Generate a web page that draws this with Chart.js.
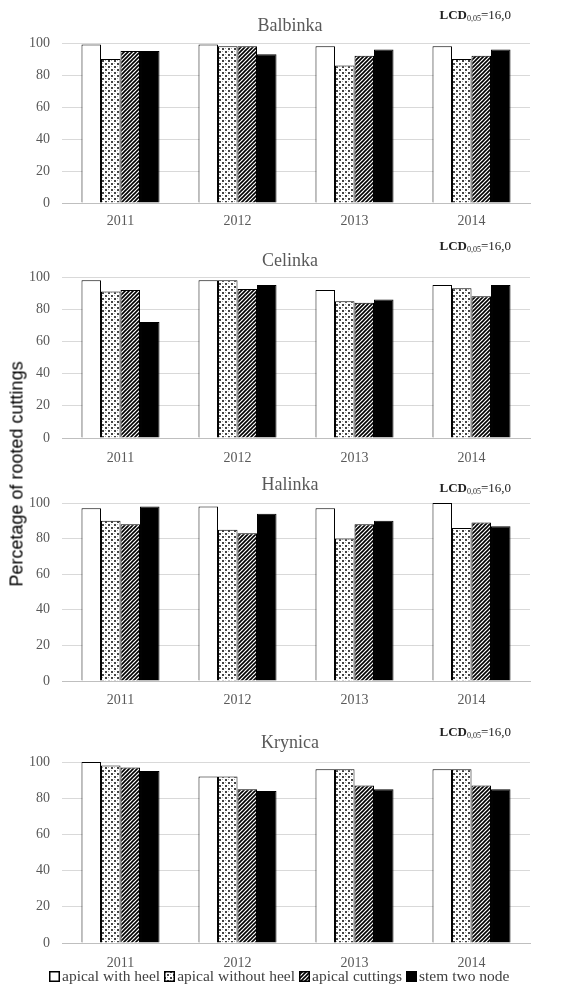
<!DOCTYPE html>
<html lang="en">

<head>
    <meta charset="UTF-8">
    <title>Percentage of rooted cuttings</title>
    <script src="https://cdn.jsdelivr.net/npm/chart.js"></script>
    <style>
        body { margin: 0; background: #fff; }
        #wrap { position: relative; width: 585px; height: 984px; overflow: hidden; background: #fff; }
        #wrap canvas.panel { position: absolute; left: 0; }
        #ytitle {
            position: absolute; left: 17px; top: 474px;
            transform: translate(-50%, -50%) rotate(-90deg);
            font: 18px "Liberation Sans", Arial, sans-serif; color: #000; white-space: nowrap;
        }
        #legend {
            position: absolute; left: 49px; top: 967px; display: flex; align-items: center;
            font: 15.5px "Liberation Serif", "Times New Roman", serif; color: #404040; white-space: nowrap; z-index: 2;
        }
        #legend span.item { display: flex; align-items: center; margin-right: 4px; }
        #legend canvas { margin-right: 2px; }
    </style>
</head>

<body>
    <div id="wrap">
        <canvas id="c1" class="panel" width="585" height="232" style="top:0px"></canvas>
        <canvas id="c2" class="panel" width="585" height="238" style="top:232px"></canvas>
        <canvas id="c3" class="panel" width="585" height="240" style="top:470px"></canvas>
        <canvas id="c4" class="panel" width="585" height="274" style="top:710px"></canvas>
        <div id="ytitle">Percetage of rooted cuttings</div>
        <div id="legend"></div>
    </div>

    <script>
        // dane
        const years = ['2011', '2012', '2013', '2014'];
        const seriesNames = ['apical with heel', 'apical without heel', 'apical cuttings', 'stem two node'];

        // kolejnosc: with heel, without heel, apical cuttings, stem two node
        const balbinka = [
            [99, 99, 98, 98],
            [90, 98, 86, 90],
            [95, 98, 92, 92],
            [95, 93, 96, 96]
        ];
        const celinka = [
            [98, 98, 92, 95],
            [91, 98, 85, 93],
            [92, 92.5, 84, 88],
            [72, 95, 86, 95]
        ];
        const halinka = [
            [97, 98, 97, 100],
            [90, 85, 80, 86],
            [88, 83, 88, 89],
            [98, 94, 90, 87]
        ];
        const krynica = [
            [100, 92, 96, 96],
            [98, 92, 96, 96],
            [97, 85, 87, 87],
            [95, 84, 85, 85]
        ];
        const yTicks = [0, 20, 40, 60, 80, 100];
        const lcdText = ['LCD', '0,05', '=16,0'];

        const serif = '"Liberation Serif", "Times New Roman", serif';
        const grey = '#595959';

        // wzory wypelnien
        function makeFills(ctx) {
            const dot = document.createElement('canvas');
            dot.width = 6; dot.height = 6;
            const d = dot.getContext('2d');
            d.fillStyle = '#fff'; d.fillRect(0, 0, 6, 6);
            d.fillStyle = '#444';
            d.fillRect(0, 0, 2, 2);
            d.fillRect(3, 3, 2, 2);
            d.fillStyle = '#aaa';
            d.fillRect(3, 0, 1, 1);
            d.fillRect(0, 3, 1, 1);

            const hatch = document.createElement('canvas');
            hatch.width = 4; hatch.height = 4;
            const h = hatch.getContext('2d');
            h.fillStyle = '#fff'; h.fillRect(0, 0, 4, 4);
            h.strokeStyle = '#000'; h.lineWidth = 1.6;
            h.beginPath();
            h.moveTo(-1, 1); h.lineTo(1, -1);
            h.moveTo(0, 4); h.lineTo(4, 0);
            h.moveTo(3, 5); h.lineTo(5, 3);
            h.stroke();

            return ['#ffffff', ctx.createPattern(dot, 'repeat'), ctx.createPattern(hatch, 'repeat'), '#000000'];
        }

        // tytul odmiany + LCD
        const panelText = {
            id: 'panelText',
            afterDraw(chart, args, opts) {
                const ctx = chart.ctx;
                ctx.save();
                ctx.fillStyle = grey;
                ctx.font = '18px ' + serif;
                ctx.textAlign = 'center';
                ctx.textBaseline = 'middle';
                ctx.fillText(opts.title, 290, opts.titleY);

                ctx.textAlign = 'left';
                ctx.textBaseline = 'alphabetic';
                ctx.fillStyle = '#222';
                const big = 'bold 13px ' + serif, small = '8px ' + serif, eq = '13px ' + serif;
                ctx.font = big; const w1 = ctx.measureText(lcdText[0]).width;
                ctx.font = small; const w2 = ctx.measureText(lcdText[1]).width;
                ctx.font = eq; const w3 = ctx.measureText(lcdText[2]).width;
                let x = 511 - (w1 + w2 + w3);
                const base = opts.lcdY + 4;
                ctx.font = big; ctx.fillText(lcdText[0], x, base); x += w1;
                ctx.font = small; ctx.fillText(lcdText[1], x, base + 2); x += w2;
                ctx.font = eq; ctx.fillText(lcdText[2], x, base);
                ctx.restore();
            }
        };

        function makePanel(id, values, title, titleY, lcdY, padTop, xAxisH, xPad) {
            const ctx = document.getElementById(id).getContext('2d');
            const fills = makeFills(ctx);
            return new Chart(ctx, {
                type: 'bar',
                data: {
                    labels: years,
                    datasets: seriesNames.map((name, i) => ({
                        label: name,
                        data: values[i],
                        backgroundColor: fills[i],
                        borderColor: '#000',
                        borderWidth: 1,
                        borderSkipped: 'start'
                    }))
                },
                options: {
                    responsive: false,
                    animation: false,
                    layout: { padding: { top: padTop, right: 55, left: 0, bottom: 0 } },
                    datasets: { bar: { categoryPercentage: 0.667, barPercentage: 1 } },
                    plugins: {
                        legend: { display: false },
                        tooltip: { enabled: false },
                        panelText: { title: title, titleY: titleY, lcdY: lcdY }
                    },
                    scales: {
                        x: {
                            grid: { display: false, drawTicks: false },
                            border: { color: '#bfbfbf' },
                            ticks: { color: grey, font: { family: serif, size: 14 }, padding: xPad },
                            afterFit(s) { s.height = xAxisH; }
                        },
                        y: {
                            min: 0, max: 100,
                            afterBuildTicks(s) { s.ticks = yTicks.map(v => ({ value: v })); },
                            grid: { color: '#d9d9d9', drawTicks: false },
                            border: { display: false },
                            ticks: { color: grey, font: { family: serif, size: 14 }, padding: 12 },
                            afterFit(s) { s.width = 62; }
                        }
                    }
                },
                plugins: [panelText]
            });
        }

        makePanel('c1', balbinka, 'Balbinka', 26, 15, 43, 29, 10);
        makePanel('c2', celinka, 'Celinka', 29, 14, 45, 32, 12);
        makePanel('c3', halinka, 'Halinka', 15, 18, 33, 29, 11);
        makePanel('c4', krynica, 'Krynica', 33, 22, 52, 41, 12);

        // legenda
        const legend = document.getElementById('legend');
        const tmp = document.createElement('canvas').getContext('2d');
        const legendFills = makeFills(tmp);
        seriesNames.forEach((name, i) => {
            const item = document.createElement('span');
            item.className = 'item';
            const sw = document.createElement('canvas');
            sw.width = 11; sw.height = 11;
            const sctx = sw.getContext('2d');
            sctx.fillStyle = legendFills[i];
            sctx.fillRect(0, 0, 11, 11);
            sctx.strokeStyle = '#000';
            sctx.lineWidth = 1.5;
            sctx.strokeRect(0.75, 0.75, 9.5, 9.5);
            item.appendChild(sw);
            item.appendChild(document.createTextNode(name));
            legend.appendChild(item);
        });
    </script>
</body>

</html>
